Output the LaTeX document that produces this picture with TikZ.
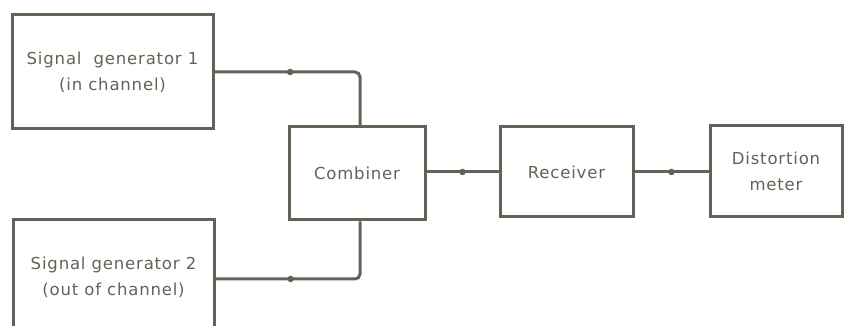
\documentclass[tikz,border=0pt]{standalone}
\usepackage{fontspec}
\setmainfont{DejaVu Sans}[LetterSpace=5]
\usepackage{xcolor}
\definecolor{inkgrey}{RGB}{98,98,86}
\tikzset{
    block/.style={draw=inkgrey, line width=3pt, rectangle, align=center,
        text=inkgrey, font=\fontsize{16.5}{26}\selectfont},
    link/.style={draw=inkgrey, line width=3pt},
    dot/.style={circle, fill=inkgrey, inner sep=0pt, minimum size=6.5pt}
}

\begin{document}
\begin{tikzpicture}[x=1pt, y=1pt]
    \useasboundingbox (0,0) rectangle (844,326);
    \clip (0,0) rectangle (844,326);

    % Blocks
    \node[block, minimum width=201pt, minimum height=114pt] (gen1) at (112.5,254) {Signal\ \ generator 1\\(in channel)};
    \node[block, minimum width=201pt, minimum height=114pt] (gen2) at (113.5,49) {Signal generator 2\\(out of channel)};
    \node[block, minimum width=136pt, minimum height=93pt] (comb) at (357,152.5) {Combiner};
    \node[block, minimum width=133pt, minimum height=90pt] (rec) at (566.5,154) {Receiver};
    \node[block, minimum width=132pt, minimum height=91pt] (dist) at (776,154.5) {Distortion\\meter};

    % Connections
    \draw[link, rounded corners=5pt] (gen1.east) -| ([xshift=3pt]comb.north) node[dot, pos=0.26] (d1) {};
    \draw[link, rounded corners=5pt] ([yshift=-2pt]gen2.east) -| ([xshift=3pt]comb.south) node[dot, pos=0.26] (d2) {};
    \draw[link] (comb.east |- rec.west) -- (rec.west) node[dot, pos=0.5] (d3) {};
    \draw[link] (rec.east) -- (rec.east -| dist.west) node[dot, pos=0.5] (d4) {};
\end{tikzpicture}
\end{document}
